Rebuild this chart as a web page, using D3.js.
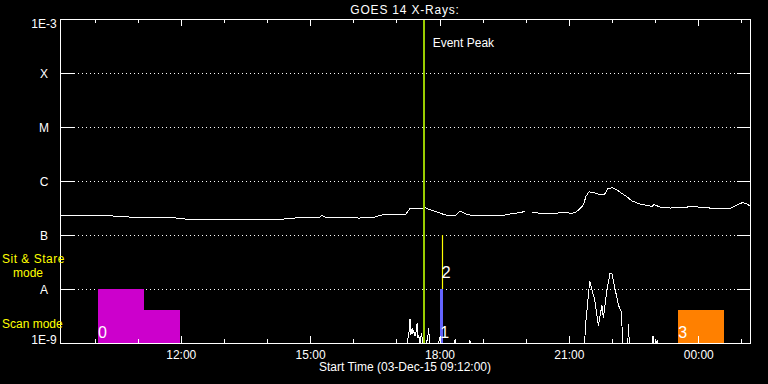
<!DOCTYPE html>
<html>
<head>
  <meta charset="utf-8">
  <title>GOES 14 X-Rays</title>
  <script src="https://d3js.org/d3.v7.min.js"></script>
  <style>
    body {
      margin: 0;
      background: #000;
    }
    svg {
      display: block;
      background: #000;
    }
    text {
      font-family: "Liberation Sans", Arial, sans-serif;
      font-size: 12px;
      fill: #fff;
    }
    .axis path, .axis line {
      stroke: #fff;
      shape-rendering: crispEdges;
    }
    .grid {
      stroke: #fff;
      stroke-dasharray: 1,3;
      shape-rendering: crispEdges;
    }
    .flux {
      fill: none;
      stroke: #fff;
      stroke-width: 1;
      shape-rendering: crispEdges;
    }
    .mode-label {
      fill: #ffff00;
    }
    .obs-label {
      font-size: 16px;
    }
  </style>
</head>
<body>
  <div id="chart"></div>

  <script>
    // long channel (1-8 A), null = data gap
    const longTimes = ["09:12","09:16","09:40","09:54","10:08","10:35","10:49","11:07","11:38","11:59",
      "12:13","13:08","13:36","14:18","14:32","14:46","15:14","15:16","15:21","15:42",
      "16:09","16:30","16:40","17:05","17:13","17:19","17:37","17:40","17:44","17:56",
      "18:08","18:22","18:29","18:35","18:42","18:56","19:24","19:38","19:52","19:59",
      "20:04","20:09","20:20","20:41","20:50","21:04","21:10","21:15","21:20","21:24",
      "21:28","21:36","21:46","21:50","21:54","22:00","22:07","22:14","22:22","22:28",
      "22:39","22:50","22:56","22:58","23:07","23:21","23:42","23:51","00:02","00:16",
      "00:37","00:44","00:51","01:01","01:06","01:12"];
    const longFlux = [2.20e-7,2.32e-7,2.30e-7,2.25e-7,2.30e-7,2.22e-7,2.15e-7,2.09e-7,2.13e-7,2.04e-7,
      1.92e-7,1.91e-7,1.95e-7,1.95e-7,2.02e-7,2.11e-7,2.15e-7,2.30e-7,2.15e-7,2.10e-7,
      2.06e-7,2.15e-7,2.35e-7,2.35e-7,2.42e-7,3.10e-7,3.12e-7,3.23e-7,3.03e-7,2.67e-7,
      2.35e-7,2.30e-7,2.78e-7,2.50e-7,2.35e-7,2.25e-7,2.25e-7,2.45e-7,2.61e-7,2.72e-7,
      null,2.67e-7,2.52e-7,2.50e-7,2.63e-7,2.52e-7,2.67e-7,3.03e-7,3.59e-7,5.27e-7,
      6.34e-7,6.00e-7,5.50e-7,5.74e-7,7.20e-7,7.51e-7,6.81e-7,5.87e-7,4.95e-7,4.26e-7,
      3.75e-7,3.52e-7,3.37e-7,3.67e-7,3.30e-7,3.16e-7,3.23e-7,3.44e-7,3.26e-7,3.16e-7,
      3.03e-7,3.10e-7,3.44e-7,3.96e-7,3.86e-7,3.44e-7];

    // short channel (0.5-4 A), mostly below 1E-9
    const shortTimes = ["09:12","17:15","17:18","17:19","17:20","17:22","17:23","17:24","17:26","17:27",
      "17:29","17:30","17:31","17:33","17:34","17:35","17:37","17:42","17:44","17:45",
      "17:46","17:59","18:00","18:01","18:21","18:22","18:23","18:41","18:42","18:43",
      "21:22","21:23","21:29","21:36","21:41","21:46","21:48","21:53","21:57","22:00",
      "22:04","22:09","22:13","22:15","22:22","22:23","22:24","22:56","22:57","22:58",
      "23:02","23:03","23:04","01:12"];
    const shortFlux = [5e-10,5e-10,1.7e-9,2.8e-9,1.4e-9,1.9e-9,1.5e-9,1.7e-9,1.35e-9,1.5e-9,
      2.35e-9,1.25e-9,1.4e-9,5e-10,1.3e-9,1.5e-9,5e-10,5e-10,1.4e-9,1.9e-9,
      5e-10,5e-10,1.3e-9,5e-10,5e-10,1.2e-9,5e-10,5e-10,1.15e-9,5e-10,
      5e-10,2.0e-9,1.4e-8,6.2e-9,2.1e-9,5.0e-9,2.9e-9,9.6e-9,1.9e-8,1.9e-8,
      1.04e-8,5.0e-9,3.75e-9,5e-10,5e-10,2.25e-9,5e-10,5e-10,1.35e-9,5e-10,
      5e-10,1.14e-9,5e-10,5e-10];

    // flux levels on the y axis
    const levelValues = [1e-9, 1e-8, 1e-7, 1e-6, 1e-5, 1e-4, 1e-3];
    const levelLabels = ["1E-9", "A", "B", "C", "M", "X", "1E-3"];

    // scan mode observations (bars), one id can have several segments
    const scanIds = [0, 0, 1, 3];
    const scanStart = ["10:05", "11:09", "18:01", "23:32"];
    const scanEnd = ["11:09", "11:59", "18:05", "00:36"];
    const scanTop = [1e-8, 4e-9, 1e-8, 4e-9];

    // sit & stare observations
    const stareIds = [2];
    const stareTimes = ["18:03"];

    const peakTime = "17:38";
    const startLabel = "Start Time (03-Dec-15 09:12:00)";

    const obsColors = { 0: "#cc00cc", 1: "#6464ff", 2: "#ffff00", 3: "#ff8000" };

    // times after midnight belong to 04-Dec
    function toDate(hm) {
      const [h, m] = hm.split(":").map(Number);
      return new Date(2015, 11, h < 9 ? 4 : 3, h, m);
    }

    const margin = { top: 19, right: 18, bottom: 41, left: 60 },
          width = 768 - margin.left - margin.right,
          height = 384 - margin.top - margin.bottom;

    const svg = d3.select("#chart")
      .append("svg")
      .attr("width", width + margin.left + margin.right)
      .attr("height", height + margin.top + margin.bottom)
      .append("g")
      .attr("transform", `translate(${margin.left},${margin.top})`);

    const x = d3.scaleTime()
      .domain([toDate("09:12"), toDate("01:12")])
      .range([0, width]);
    const y = d3.scaleLog()
      .domain([1e-9, 1e-3])
      .range([height, 0])
      .clamp(true);

    // dotted flux level lines
    svg.selectAll(".grid")
      .data(levelValues.slice(1, -1))
      .enter()
      .append("line")
      .attr("class", "grid")
      .attr("x1", 18)
      .attr("x2", width - 13)
      .attr("y1", d => y(d))
      .attr("y2", d => y(d));

    // scan bars
    const scans = scanIds.map((id, i) => ({
      id, start: toDate(scanStart[i]), end: toDate(scanEnd[i]), top: scanTop[i]
    }));
    svg.selectAll(".scan")
      .data(scans)
      .enter()
      .append("rect")
      .attr("class", "scan")
      .attr("x", d => x(d.start))
      .attr("width", d => x(d.end) - x(d.start))
      .attr("y", d => y(d.top))
      .attr("height", d => y(1e-9) - y(d.top))
      .attr("fill", d => obsColors[d.id])
      .attr("shape-rendering", "crispEdges");

    // flux curves
    const longData = longTimes.map((t, i) => ({ t: toDate(t), v: longFlux[i] }));
    const shortData = shortTimes.map((t, i) => ({ t: toDate(t), v: shortFlux[i] }));
    const line = d3.line()
      .defined(d => d.v != null)
      .x(d => x(d.t))
      .y(d => y(d.v));

    svg.append("path").datum(shortData).attr("class", "flux").attr("d", line);
    svg.append("path").datum(longData).attr("class", "flux").attr("d", line);

    // sit & stare markers
    const stares = stareIds.map((id, i) => ({ id, t: toDate(stareTimes[i]) }));
    svg.selectAll(".stare")
      .data(stares)
      .enter()
      .append("line")
      .attr("class", "stare")
      .attr("x1", d => Math.round(x(d.t)) + 0.5)
      .attr("x2", d => Math.round(x(d.t)) + 0.5)
      .attr("y1", y(1e-7))
      .attr("y2", y(1e-8))
      .attr("stroke", d => obsColors[d.id])
      .attr("stroke-width", 1.2);

    // event peak
    svg.append("line")
      .attr("x1", x(toDate(peakTime)))
      .attr("x2", x(toDate(peakTime)))
      .attr("y1", 0)
      .attr("y2", height)
      .attr("stroke", "#99cc00")
      .attr("stroke-width", 2)
      .attr("shape-rendering", "crispEdges");
    svg.append("text")
      .attr("x", x(toDate(peakTime)) + 9)
      .attr("y", 28)
      .text("Event Peak");

    // axes: hourly minor ticks, 3-hourly major ticks, all pointing inward
    const hourTicks = x.ticks(d3.timeHour.every(1));
    const majorTicks = x.ticks(d3.timeHour.every(3));

    svg.append("g")
      .attr("class", "axis")
      .attr("transform", `translate(0,${height})`)
      .call(d3.axisBottom(x).tickValues(hourTicks).tickSize(-4).tickSizeOuter(0).tickFormat(""));
    const xAxis = svg.append("g")
      .attr("class", "axis")
      .attr("transform", `translate(0,${height})`)
      .call(d3.axisBottom(x).tickValues(majorTicks).tickSize(-7).tickSizeOuter(0)
        .tickPadding(7).tickFormat(d3.timeFormat("%H:%M")));
    xAxis.select(".domain").remove();

    svg.append("g")
      .attr("class", "axis")
      .call(d3.axisTop(x).tickValues(hourTicks).tickSize(-4).tickSizeOuter(0).tickFormat(""));
    svg.append("g")
      .attr("class", "axis")
      .call(d3.axisTop(x).tickValues(majorTicks).tickSize(-7).tickSizeOuter(0).tickFormat(""))
      .select(".domain").remove();

    const yAxis = svg.append("g")
      .attr("class", "axis")
      .call(d3.axisLeft(y).tickValues(levelValues).tickSize(-15).tickSizeOuter(0)
        .tickFormat((d, i) => levelLabels[i]));
    yAxis.selectAll("text")
      .attr("x", -16)
      .attr("text-anchor", "middle")
      .attr("dy", (d, i) => i === 0 ? "0.08em" : i === levelValues.length - 1 ? "0.67em" : "0.38em");

    svg.append("g")
      .attr("class", "axis")
      .attr("transform", `translate(${width},0)`)
      .call(d3.axisRight(y).tickValues(levelValues).tickSize(-13).tickSizeOuter(0).tickFormat(""));

    // observation labels
    svg.selectAll(".obs-label.scan-label")
      .data(scans.filter((d, i) => scans.findIndex(s => s.id === d.id) === i))
      .enter()
      .append("text")
      .attr("class", "obs-label scan-label")
      .attr("x", d => x(d.start))
      .attr("y", y(1e-9) - 5)
      .text(d => d.id);
    svg.selectAll(".obs-label.stare-label")
      .data(stares)
      .enter()
      .append("text")
      .attr("class", "obs-label stare-label")
      .attr("x", d => x(d.t))
      .attr("y", y(1e-8) - 11)
      .text(d => d.id);

    // mode labels on the left
    svg.append("text")
      .attr("class", "mode-label")
      .attr("x", -58)
      .attr("y", y(Math.pow(10, -7.5)) + 0.5)
      .style("letter-spacing", "0.5px")
      .text("Sit & Stare");
    svg.append("text")
      .attr("class", "mode-label")
      .attr("x", -47)
      .attr("y", y(Math.pow(10, -7.5)) + 14.5)
      .text("mode");
    svg.append("text")
      .attr("class", "mode-label")
      .attr("x", -58)
      .attr("y", y(1e-9) - 15)
      .text("Scan mode");

    // titles
    svg.append("text")
      .attr("x", width / 2)
      .attr("y", -5.5)
      .attr("text-anchor", "middle")
      .style("letter-spacing", "0.8px")
      .text("GOES 14 X-Rays:");
    svg.append("text")
      .attr("x", width / 2)
      .attr("y", height + 28)
      .attr("text-anchor", "middle")
      .text(startLabel);
  </script>
</body>
</html>
